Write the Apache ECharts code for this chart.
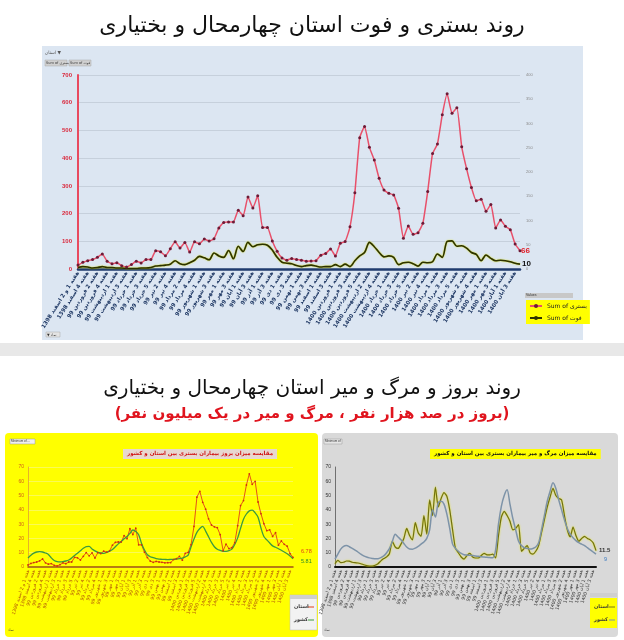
<!DOCTYPE html>
<html><head><meta charset="utf-8">
<script src="https://cdn.jsdelivr.net/npm/echarts/dist/echarts.min.js"></script>
<style>html,body{margin:0;padding:0;background:#fff}#c{width:624px;height:640px}</style>
</head><body><div id="c"></div>
<script>
// ---------- DATA ----------
const weeks = [
"هفته 1 و 2 اسفند 1398","هفته 3 اسفند 1398","هفته 4 اسفند 1398",
"هفته 1 فروردین 99","هفته 2 فروردین 99","هفته 3 فروردین 99","هفته 4 فروردین 99","هفته 5 فروردین 99",
"هفته 1 اردیبهشت 99","هفته 2 اردیبهشت 99","هفته 3 اردیبهشت 99","هفته 4 اردیبهشت 99",
"هفته 1 خرداد 99","هفته 2 خرداد 99","هفته 3 خرداد 99","هفته 4 خرداد 99","هفته 5 خرداد 99",
"هفته 1 تیر 99","هفته 2 تیر 99","هفته 3 تیر 99","هفته 4 تیر 99",
"هفته 1 مرداد 99","هفته 2 مرداد 99","هفته 3 مرداد 99","هفته 4 مرداد 99","هفته 5 مرداد 99",
"هفته 1 شهریور 99","هفته 2 شهریور 99","هفته 3 شهریور 99","هفته 4 شهریور 99",
"هفته 1 مهر 99","هفته 2 مهر 99","هفته 3 مهر 99","هفته 4 مهر 99",
"هفته 1 آبان 99","هفته 2 آبان 99","هفته 3 آبان 99","هفته 4 آبان 99",
"هفته 1 آذر 99","هفته 2 آذر 99","هفته 3 آذر 99","هفته 4 آذر 99",
"هفته 1 دی 99","هفته 2 دی 99","هفته 3 دی 99","هفته 4 دی 99",
"هفته 1 بهمن 99","هفته 2 بهمن 99","هفته 3 بهمن 99","هفته 4 بهمن 99",
"هفته 1 اسفند 99","هفته 2 اسفند 99","هفته 3 اسفند 99","هفته 4 اسفند 99",
"هفته 1 فروردین 1400","هفته 2 فروردین 1400","هفته 3 فروردین 1400","هفته 4 فروردین 1400","هفته 5 فروردین 1400",
"هفته 1 اردیبهشت 1400","هفته 2 اردیبهشت 1400","هفته 3 اردیبهشت 1400","هفته 4 اردیبهشت 1400","هفته 5 اردیبهشت 1400",
"هفته 1 خرداد 1400","هفته 2 خرداد 1400","هفته 3 خرداد 1400","هفته 4 خرداد 1400","هفته 5 خرداد 1400",
"هفته 1 تیر 1400","هفته 2 تیر 1400","هفته 3 تیر 1400","هفته 4 تیر 1400","هفته 5 تیر 1400",
"هفته 1 مرداد 1400","هفته 2 مرداد 1400","هفته 3 مرداد 1400","هفته 4 مرداد 1400","هفته 5 مرداد 1400",
"هفته 1 شهریور 1400","هفته 2 شهریور 1400","هفته 3 شهریور 1400","هفته 4 شهریور 1400","هفته 5 شهریور 1400",
"هفته 1 مهر 1400","هفته 2 مهر 1400","هفته 3 مهر 1400","هفته 4 مهر 1400",
"هفته 1 آبان 1400","هفته 2 آبان 1400","هفته 3 آبان 1400","هفته آخر آبان 1400"
];

// top chart: weekly hospitalised (left axis) and deaths (right axis)
const hospitalized = [
14,24,30,34,42,54,28,19,23,12, 7,16,28,22,34,34,66,62,48,73,
98,76,96,61,98,91,108,101,109,148, 168,170,170,212,192,260,220,264,150,150,
101,64,40,32,38,34,32,28,29,30, 50,56,72,47,93,99,152,275,474,514,
439,393,327,285,273,267,219,111,155,125, 131,165,280,417,451,557,632,562,582,441,
362,294,246,252,208,233,148,177,154,142, 90,66];
const deaths = [
3,5,4,2,3,5,3,3,2,2, 1,1,1,2,2,3,6,7,8,10,
17,11,9,13,18,26,23,19,33,27, 24,38,21,47,36,55,46,50,51,49,
39,24,14,12,11,7,5,7,8,6, 4,5,5,9,5,10,5,17,27,34,
55,46,34,25,27,24,9,13,14,11, 6,14,13,15,31,24,57,58,47,48,
43,34,30,17,29,22,17,18,17,15, 12,10];

// bottom-left: hospitalisation incidence per 100k (province / country)
const incProvince = [
1.4,2.5,3.1,3.5,4.3,5.6,2.9,2.0,2.4,1.2, 0.7,1.6,2.9,2.3,3.5,3.5,6.8,6.4,4.9,7.5,
10.1,7.8,9.9,6.3,10.1,9.4,11.1,10.4,11.2,15.3, 17.3,17.5,17.5,21.9,19.8,26.8,22.7,27.2,15.5,15.5,
10.4,6.6,4.1,3.3,3.9,3.5,3.3,2.9,3.0,3.1, 5.2,5.8,7.4,4.8,9.6,10.2,15.7,28.4,48.9,53.0,
45.3,40.5,33.7,29.4,28.1,27.5,22.6,11.4,16.0,12.9, 13.5,17.0,28.9,43.0,46.5,57.4,65.2,57.9,60.0,45.5,
37.3,30.3,25.4,26.0,21.4,24.0,15.3,18.2,15.9,14.6, 9.3,6.78];
const incCountry = [
6.3,8.2,9.7,10.5,10.8,10.5,9.8,8.8,6.4,4.6, 3.8,3.6,3.8,4.2,4.9,6.3,8.0,9.7,11.4,13.1,
14.3,14.5,12.6,11.3,10.3,9.8,9.6,10.2,11.1,12.3, 14.2,16.2,17.9,19.7,21.4,23.5,25.9,24.9,22.6,16.5,
11.9,8.6,7.2,6.5,5.9,5.5,5.4,5.3,5.2,5.3, 5.4,5.5,5.8,6.2,7.1,8.3,14.2,19.6,24.2,26.9,
28.4,25.1,21.2,17.2,14.2,12.4,11.6,11.0,11.0,11.4, 12.5,15.8,20.4,27.1,33.5,37.1,39.3,39.8,37.9,34.9,
27.3,21.3,19.0,16.8,14.8,13.8,12.8,11.7,10.5,9.3, 7.7,5.81];

// bottom-right: mortality per million (province / country)
const mortProvince = [
2.3,4.7,3.1,3.3,4.2,4.1,3.3,3.0,2.8,2.3, 1.6,1.0,0.7,0.6,1.2,2.3,4.3,5.9,7.1,9.5,
18,14,13,16,20,27,22,19,31,24, 21.5,36,23,47,36,56,42,48,52,49.5,
40,26,13,10,7,5.5,8,9.5,7,6.3, 6.3,8,9.5,8.5,8.5,9,6.3,22,35,39,
36,32,26,27,29.7,11,13,15,10,9, 11,15,24,33,42,49,55,50,48,47,
36,26,21,28,22,18,20,21.5,20,19, 17,11.5];
const mortCountry = [
5.6,9,12.5,14.5,15,14.2,13,11.8,10.5,9, 7.8,7,6.4,6,5.7,5.8,6.6,7.8,10,13,
18,23,21,19,16.5,14,12.6,12.5,13.2,14.5, 16,17.5,20,26,40,35,45,46,44,37,
27,16,13,11,9.5,8.6,8.4,8.2,8,7.7, 7.5,7.2,7,6.8,6.6,6.4,12,30,42.5,50,
54,44,34,26,18,15,13.5,13,12.6,13, 14,17,26,36,46,53,59,55,47,40,
33,27,23,20.5,18.5,17,16,15,13.5,12, 10.5,9];

const seriesNames = ['Sum of بستری', 'Sum of فوت'];
const bottomNames = ['استان', 'کشور'];

// ---------- CHART ----------
const FA = 'DejaVu Sans';
const chart = echarts.init(document.getElementById('c'), null, {renderer: 'canvas'});

function catAxis(grid, color, lineColor, lineW, fs, rot, interval, bold) {
  return {
    type: 'category', gridIndex: grid, data: weeks, boundaryGap: false,
    axisLine: {show: true, lineStyle: {color: lineColor, width: lineW}},
    axisTick: {show: false},
    axisLabel: {show: true, interval: interval, rotate: rot, fontSize: fs, color: color,
      fontFamily: FA, fontWeight: bold ? 'bold' : 'normal', margin: 3},
    splitLine: {show: false}
  };
}

const option = {
  animation: false,
  backgroundColor: '#ffffff',
  title: [
    {text: 'روند بستری و فوت استان چهارمحال و بختیاری', left: 'center', top: 10,
     textStyle: {fontFamily: FA, fontSize: 22, fontWeight: 'normal', color: '#111'}},
    {text: 'روند بروز و مرگ و میر استان چهارمحال و بختیاری', left: 'center', top: 374,
     textStyle: {fontFamily: FA, fontSize: 20, fontWeight: 'normal', color: '#111'}},
    {text: '(بروز در صد هزار نفر ، مرگ و میر در یک میلیون نفر)', left: 'center', top: 402,
     textStyle: {fontFamily: FA, fontSize: 15, fontWeight: 'bold', color: '#e0141e'}},
    {text: 'مقایسه میزان بروز بیماران بستری بین استان و کشور', left: 123, top: 449,
     backgroundColor: '#e8d8d0', padding: [2, 4],
     textStyle: {fontFamily: FA, fontSize: 5.5, fontWeight: 'bold', color: '#d01010'}},
    {text: 'مقایسه میزان مرگ و میر بیماران بستری بین استان و کشور', left: 430, top: 449,
     backgroundColor: '#ffff00', padding: [2, 4],
     textStyle: {fontFamily: FA, fontSize: 5.5, fontWeight: 'bold', color: '#111'}}
  ],
  graphic: [
    {type: 'rect', z: -10, shape: {x: 42, y: 46, width: 541, height: 294}, style: {fill: '#dce6f2'}},
    {type: 'rect', z: -10, shape: {x: 0, y: 343, width: 624, height: 13}, style: {fill: '#e8e8e8'}},
    {type: 'rect', z: -10, shape: {x: 5, y: 433, width: 313, height: 204, r: 4}, style: {fill: '#ffff00'}},
    {type: 'rect', z: -10, shape: {x: 322, y: 433, width: 296, height: 204, r: 4}, style: {fill: '#d9d9d9'}},
    // pivot-table chips (top)
    {type: 'text', left: 45, top: 50, style: {text: 'استان ▼', fontSize: 4.5, fontFamily: FA, fill: '#555'}},
    {type: 'rect', shape: {x: 45, y: 60, width: 22, height: 6}, style: {fill: '#d0d0d0', stroke: '#aaa', lineWidth: 0.5}},
    {type: 'text', left: 46, top: 61, style: {text: 'Sum of بستری', fontSize: 3.5, fontFamily: FA, fill: '#333'}},
    {type: 'rect', shape: {x: 69, y: 60, width: 22, height: 6}, style: {fill: '#d0d0d0', stroke: '#aaa', lineWidth: 0.5}},
    {type: 'text', left: 70, top: 61, style: {text: 'Sum of فوت', fontSize: 3.5, fontFamily: FA, fill: '#333'}},
    {type: 'rect', shape: {x: 46, y: 332, width: 14, height: 5}, style: {fill: '#e4e4e4', stroke: '#aaa', lineWidth: 0.5}},
    {type: 'text', left: 47, top: 333, style: {text: '▼ نماد', fontSize: 3.5, fontFamily: FA, fill: '#333'}},
    // top legend header
    {type: 'rect', shape: {x: 525, y: 293, width: 48, height: 5}, style: {fill: '#c8c8c8'}},
    {type: 'text', left: 526, top: 293.5, style: {text: 'Values', fontSize: 3.5, fill: '#333'}},
    // bottom chips
    {type: 'rect', shape: {x: 10, y: 439, width: 25, height: 5}, style: {fill: '#f0f0f0', stroke: '#999', lineWidth: 0.5}},
    {type: 'text', left: 11, top: 440, style: {text: 'Minimum of ...', fontSize: 3, fill: '#333'}},
    {type: 'text', left: 8, top: 628, style: {text: 'نماد', fontSize: 3.5, fontFamily: FA, fill: '#333'}},
    {type: 'rect', shape: {x: 324, y: 439, width: 18, height: 5}, style: {fill: '#e6e6e6', stroke: '#999', lineWidth: 0.5}},
    {type: 'text', left: 325, top: 440, style: {text: 'Minimum of', fontSize: 3, fill: '#333'}},
    {type: 'text', left: 324, top: 628, style: {text: 'نماد', fontSize: 3.5, fontFamily: FA, fill: '#333'}},
    // bottom-left legend
    {type: 'rect', shape: {x: 290, y: 595, width: 27, height: 35}, style: {fill: '#f2f2f2', stroke: '#bbb', lineWidth: 0.5}},
    {type: 'rect', shape: {x: 290, y: 595, width: 27, height: 4}, style: {fill: '#cfcfcf'}},
    {type: 'line', shape: {x1: 308, y1: 607, x2: 314, y2: 607}, style: {stroke: '#e0401a', lineWidth: 1}},
    {type: 'text', left: 294, top: 604, style: {text: bottomNames[0], fontSize: 5, fontFamily: FA, fontWeight: 'bold', fill: '#333'}},
    {type: 'line', shape: {x1: 308, y1: 620, x2: 314, y2: 620}, style: {stroke: '#3d9a3d', lineWidth: 1}},
    {type: 'text', left: 294, top: 617, style: {text: bottomNames[1], fontSize: 5, fontFamily: FA, fontWeight: 'bold', fill: '#333'}},
    // bottom-right legend
    {type: 'rect', shape: {x: 590, y: 593, width: 27, height: 4}, style: {fill: '#cfcfcf'}},
    {type: 'rect', shape: {x: 590, y: 598, width: 27, height: 30}, style: {fill: '#ffff00'}},
    {type: 'line', shape: {x1: 609, y1: 607, x2: 615, y2: 607}, style: {stroke: '#7a7a10', lineWidth: 1}},
    {type: 'text', left: 594, top: 604, style: {text: bottomNames[0], fontSize: 5, fontFamily: FA, fontWeight: 'bold', fill: '#333'}},
    {type: 'line', shape: {x1: 609, y1: 620, x2: 615, y2: 620}, style: {stroke: '#7d93a8', lineWidth: 1}},
    {type: 'text', left: 594, top: 617, style: {text: bottomNames[1], fontSize: 5, fontFamily: FA, fontWeight: 'bold', fill: '#333'}}
  ],
  legend: [{
    data: seriesNames, orient: 'vertical', left: 526, top: 300,
    backgroundColor: '#ffff00', padding: [3, 3, 3, 3], itemGap: 6,
    itemWidth: 12, itemHeight: 5,
    textStyle: {fontFamily: FA, fontSize: 6, color: '#222'}
  }],
  grid: [
    {left: 78, right: 104, top: 75, bottom: 371},
    {left: 28, right: 331, top: 467, bottom: 73},
    {left: 335, right: 28, top: 467, bottom: 73}
  ],
  xAxis: [
    catAxis(0, '#1f3864', '#1f3b6e', 2.5, 5.5, 58, 1, true),
    catAxis(1, '#b0500a', '#a0520d', 1.5, 4.6, 72, 1, false),
    catAxis(2, '#333333', '#111111', 2, 4.6, 72, 1, false)
  ],
  yAxis: [
    {type: 'value', gridIndex: 0, min: 0, max: 700, interval: 100,
     axisLine: {show: true, lineStyle: {color: '#e84a5f', width: 2}}, axisTick: {show: false},
     axisLabel: {fontSize: 6, color: '#d9283c', fontWeight: 'bold', margin: 6},
     splitLine: {lineStyle: {color: '#c6d0dc', width: 1}}},
    {type: 'value', gridIndex: 0, position: 'right', min: 0, max: 400, interval: 50,
     axisLine: {show: false}, axisTick: {show: false},
     axisLabel: {fontSize: 4, color: '#8a8a8a', margin: 6}, splitLine: {show: false}},
    {type: 'value', gridIndex: 1, min: 0, max: 70, interval: 10,
     axisLine: {show: true, lineStyle: {color: '#e0a030', width: 0.8}}, axisTick: {show: false},
     axisLabel: {fontSize: 5, color: '#d0601a', margin: 4},
     splitLine: {lineStyle: {color: '#f6f690', width: 0.6}}},
    {type: 'value', gridIndex: 2, min: 0, max: 70, interval: 10,
     axisLine: {show: true, lineStyle: {color: '#555', width: 0.8}}, axisTick: {show: false},
     axisLabel: {fontSize: 5, color: '#333', margin: 4},
     splitLine: {show: false}}
  ],
  series: [
    {name: seriesNames[0], type: 'line', xAxisIndex: 0, yAxisIndex: 0, data: hospitalized,
     symbol: 'circle', symbolSize: 3, showAllSymbol: true, smooth: 0.15,
     lineStyle: {color: '#e8506a', width: 1.5}, itemStyle: {color: '#6d1a36'},
     endLabel: {show: true, formatter: p => p.value, color: '#e0202a', fontSize: 8, fontWeight: 'bold', distance: 1}},
    {name: seriesNames[1], type: 'line', xAxisIndex: 0, yAxisIndex: 1, data: deaths,
     symbol: 'none', smooth: 0.3,
     lineStyle: {color: '#2d3200', width: 1.6, shadowColor: '#d6e000', shadowBlur: 1.5},
     itemStyle: {color: '#2d3200'},
     endLabel: {show: true, formatter: p => p.value, color: '#111', fontSize: 8, fontWeight: 'bold', distance: 2}},
    {name: 'incProvince', type: 'line', xAxisIndex: 1, yAxisIndex: 2, data: incProvince,
     symbol: 'circle', symbolSize: 1.8, showAllSymbol: true,
     lineStyle: {color: '#e0401a', width: 0.9}, itemStyle: {color: '#d03010'},
     endLabel: {show: true, formatter: p => p.value, color: '#e0401a', fontSize: 5.5, offset: [0, -6]}},
    {name: 'incCountry', type: 'line', xAxisIndex: 1, yAxisIndex: 2, data: incCountry,
     symbol: 'none', smooth: 0.3,
     lineStyle: {color: '#3d9a3d', width: 1.3}, itemStyle: {color: '#3d9a3d'},
     endLabel: {show: true, formatter: p => p.value, color: '#2a8a2a', fontSize: 5.5, offset: [0, 3]}},
    {name: 'mortProvince', type: 'line', xAxisIndex: 2, yAxisIndex: 3, data: mortProvince,
     symbol: 'none', smooth: 0.2,
     lineStyle: {color: '#707010', width: 1.2, shadowColor: '#e8e800', shadowBlur: 2},
     itemStyle: {color: '#707010'},
     endLabel: {show: true, formatter: p => p.value, color: '#333', fontSize: 6, fontWeight: 'bold', distance: 3}},
    {name: 'mortCountry', type: 'line', xAxisIndex: 2, yAxisIndex: 3, data: mortCountry,
     symbol: 'none', smooth: 0.3,
     lineStyle: {color: '#7d93a8', width: 1.5}, itemStyle: {color: '#7d93a8'},
     endLabel: {show: true, formatter: p => p.value, color: '#3a7ac0', fontSize: 5.5, offset: [0, 5]}}
  ]
};
chart.setOption(option);
</script></body></html>
